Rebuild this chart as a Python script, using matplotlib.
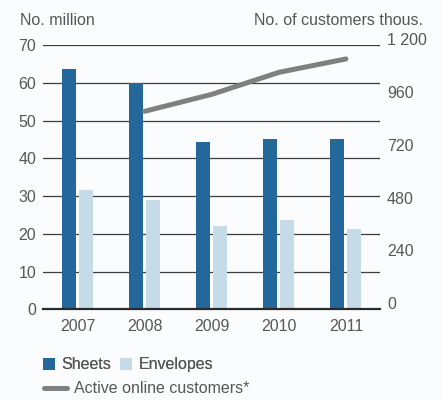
import numpy as np
import matplotlib.pyplot as plt
from matplotlib.ticker import FuncFormatter

# Data
years     = ['2007', '2008', '2009', '2010', '2011']
sheets    = [63.7, 60.0, 44.4, 45.2, 45.2]
envelopes = [31.6, 29.0, 22.1, 23.7, 21.3]
cust_years = ['2008', '2009', '2010', '2011']
customers  = [900, 977, 1077, 1138]

# Styles
cSheet = '#23679b'
cEnv   = '#c5dbe8'
cLine  = '#808080'
cText  = '#575757'
cBg    = '#fbfcfe'
fs     = 11.5

plt.rcParams['font.family'] = ['Liberation Sans', 'DejaVu Sans']
plt.rcParams['font.size'] = fs

fig = plt.figure(figsize=(4.42, 4.01), dpi=100, facecolor=cBg)
ax = fig.add_axes([0.098, 0.2287, 0.762, 0.6583])
ax.set_facecolor(cBg)

x = np.arange(len(years))
w = 0.21
off = 0.127
b1 = ax.bar(x - off, sheets, w, color=cSheet, zorder=3, label='Sheets')
b2 = ax.bar(x + off, envelopes, w, color=cEnv, zorder=3, label='Envelopes')

ax.set_xlim(-0.51, 4.51)
ax.set_ylim(0, 70)
ax.set_yticks(np.arange(0, 71, 10))
ax.set_xticks(x)
ax.set_xticklabels(years)
ax.yaxis.grid(True, color='#3c3c3c', lw=0.9, zorder=1)
for s in ['left', 'right', 'top']:
    ax.spines[s].set_visible(False)
ax.spines['bottom'].set_color('#2a2a2a')
ax.spines['bottom'].set_linewidth(1.6)
ax.spines['bottom'].set_zorder(4)
ax.tick_params(axis='both', length=0, colors=cText, labelsize=fs)
ax.tick_params(axis='y', pad=5)
ax.tick_params(axis='x', pad=7)

# Right axis
ax2 = ax.twinx()
ax2.set_ylim(0, 1200)
ax2.set_yticks(np.arange(0, 1201, 240))
ax2.yaxis.set_major_formatter(FuncFormatter(lambda v, p: f'{int(v):,}'.replace(',', ' ')))
for s in ['left', 'right', 'top', 'bottom']:
    ax2.spines[s].set_visible(False)
ax2.tick_params(axis='y', length=0, colors=cText, labelsize=fs, pad=5)
for t in ax2.get_yticklabels():
    t.set_verticalalignment('baseline')

cx = [years.index(y) for y in cust_years]
ln, = ax2.plot(cx, customers, color=cLine, lw=3.6, solid_capstyle='round',
               zorder=5, label='Active online customers*')

# Axis titles
fig.text(0.045, 0.948, 'No. million', color=cText, fontsize=fs, va='center')
fig.text(0.957, 0.948, 'No. of customers thous.', color=cText, fontsize=fs,
         va='center', ha='right')

# Legends
leg1 = fig.legend(handles=[b1, b2], loc='center left', bbox_to_anchor=(0.097, 0.090),
                  ncol=2, frameon=False, handlelength=0.75, handleheight=0.75,
                  handletextpad=0.4, columnspacing=0.55, borderpad=0, borderaxespad=0,
                  fontsize=fs, labelcolor=cText)
leg2 = fig.legend(handles=[ln], loc='center left', bbox_to_anchor=(0.100, 0.030),
                  frameon=False, handlelength=1.4, handletextpad=0.45, borderpad=0,
                  borderaxespad=0, fontsize=fs, labelcolor=cText)
leg2.get_lines()[0].set_solid_capstyle('round')
fig.add_artist(leg1)

fig.savefig('out.png', dpi=100, facecolor=cBg)
